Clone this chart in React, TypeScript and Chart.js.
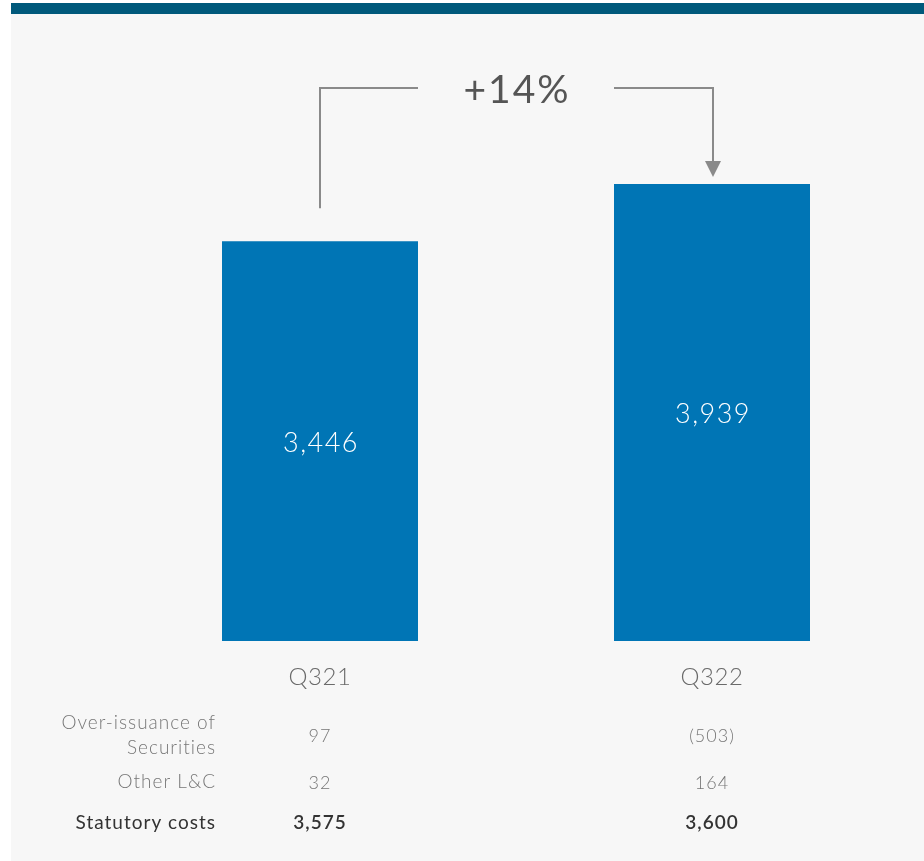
import React, { useEffect, useRef } from "react";
import { Chart, registerables } from "chart.js";

Chart.register(...registerables);

const categories = ["Q321", "Q322"];
const adjustedCosts = [3446, 3939];
const valueLabels = ["3,446", "3,939"];
const changeLabel = "+14%";
const rowLabels = [["Over-issuance of", "Securities"], ["Other L&C"], ["Statutory costs"]];
const overIssuance = ["97", "(503)"];
const otherLC = ["32", "164"];
const statutoryCosts = ["3,575", "3,600"];

const FONT = "Lato, 'Noto Sans', sans-serif";

const decorPlugin = {
  id: "decor",
  beforeDraw(chart: any) {
    const ctx = chart.ctx;
    ctx.save();
    ctx.fillStyle = "#ffffff";
    ctx.fillRect(0, 0, chart.width, chart.height);
    ctx.fillStyle = "#f7f7f7";
    ctx.fillRect(11, 3, chart.width - 11, chart.height - 3);
    ctx.fillStyle = "#00597b";
    ctx.fillRect(11, 3, chart.width - 11, 11);
    ctx.restore();
  },
  afterDatasetsDraw(chart: any) {
    const ctx = chart.ctx;
    const meta = chart.getDatasetMeta(0);
    const xs = chart.scales.x;
    ctx.save();
    // values inside bars
    ctx.textAlign = "center";
    ctx.textBaseline = "middle";
    ctx.fillStyle = "#ffffff";
    ctx.letterSpacing = "1.5px";
    ctx.font = `300 27px ${FONT}`;
    meta.data.forEach((bar: any, i: number) => {
      ctx.fillText(valueLabels[i], bar.x + 1, (bar.y + bar.base) / 2 + 2);
    });
    // category labels
    ctx.letterSpacing = "0.5px";
    ctx.fillStyle = "#6a6a6a";
    ctx.font = `300 24px ${FONT}`;
    categories.forEach((c, i) => {
      ctx.fillText(c, xs.getPixelForValue(i), 677);
    });
    // table
    const labelX = 215;
    const rowsY = [[723, 748], [782], [823]];
    const valuesY = [736, 783, 823];
    const rowValues = [overIssuance, otherLC, statutoryCosts];
    rowLabels.forEach((lines, r) => {
      const bold = r === rowLabels.length - 1;
      ctx.textAlign = "right";
      ctx.letterSpacing = "1px";
      ctx.fillStyle = bold ? "#333333" : "#777777";
      ctx.font = bold ? `400 19px ${FONT}` : `300 19px ${FONT}`;
      lines.forEach((ln, k) => ctx.fillText(ln, labelX + 1, rowsY[r][k]));
      ctx.textAlign = "center";
      ctx.fillStyle = bold ? "#333333" : "#777777";
      ctx.font = bold ? `600 19px ${FONT}` : `300 18px ${FONT}`;
      rowValues[r].forEach((v, i) => ctx.fillText(v, xs.getPixelForValue(i), valuesY[r]));
    });
    ctx.letterSpacing = "0px";
    // change connector
    const b0 = meta.data[0];
    const b1 = meta.data[1];
    const lineY = 88;
    const textX = (b0.x + b1.x) / 2;
    ctx.strokeStyle = "#8a8a8a";
    ctx.lineWidth = 2;
    ctx.beginPath();
    ctx.moveTo(b0.x, b0.y - 33);
    ctx.lineTo(b0.x, lineY);
    ctx.lineTo(b0.x + b0.width / 2, lineY);
    ctx.stroke();
    ctx.beginPath();
    ctx.moveTo(b1.x - b1.width / 2, lineY);
    ctx.lineTo(b1.x + 1, lineY);
    ctx.lineTo(b1.x + 1, b1.y - 22);
    ctx.stroke();
    ctx.fillStyle = "#8a8a8a";
    ctx.beginPath();
    ctx.moveTo(b1.x + 1 - 8, b1.y - 23);
    ctx.lineTo(b1.x + 1 + 8, b1.y - 23);
    ctx.lineTo(b1.x + 1, b1.y - 7);
    ctx.closePath();
    ctx.fill();
    ctx.fillStyle = "#555555";
    ctx.letterSpacing = "2px";
    ctx.font = `400 39px ${FONT}`;
    ctx.textAlign = "center";
    ctx.textBaseline = "middle";
    ctx.fillText(changeLabel, textX + 1, lineY + 2);
    ctx.restore();
  },
};

export default function App() {
  const ref = useRef<HTMLCanvasElement | null>(null);
  useEffect(() => {
    if (!ref.current) return;
    const chart = new Chart(ref.current, {
      type: "bar",
      data: {
        labels: categories,
        datasets: [
          {
            data: adjustedCosts,
            backgroundColor: "#0075b5",
            borderWidth: 0,
            barPercentage: 0.5,
            categoryPercentage: 1,
          },
        ],
      },
      options: {
        responsive: false,
        animation: false,
        devicePixelRatio: 1,
        layout: { padding: { left: 124, right: 16, top: 61, bottom: 220 } },
        plugins: { legend: { display: false }, tooltip: { enabled: false } },
        scales: {
          x: { display: false, offset: true },
          y: { display: false, min: 0, max: 5000 },
        },
      },
      plugins: [decorPlugin],
    });
    return () => chart.destroy();
  }, []);
  return (
    <div style={{ position: "absolute", left: 0, top: 0, width: 924, height: 861 }}>
      <canvas ref={ref} width={924} height={861} style={{ display: "block", width: 924, height: 861 }} />
    </div>
  );
}
